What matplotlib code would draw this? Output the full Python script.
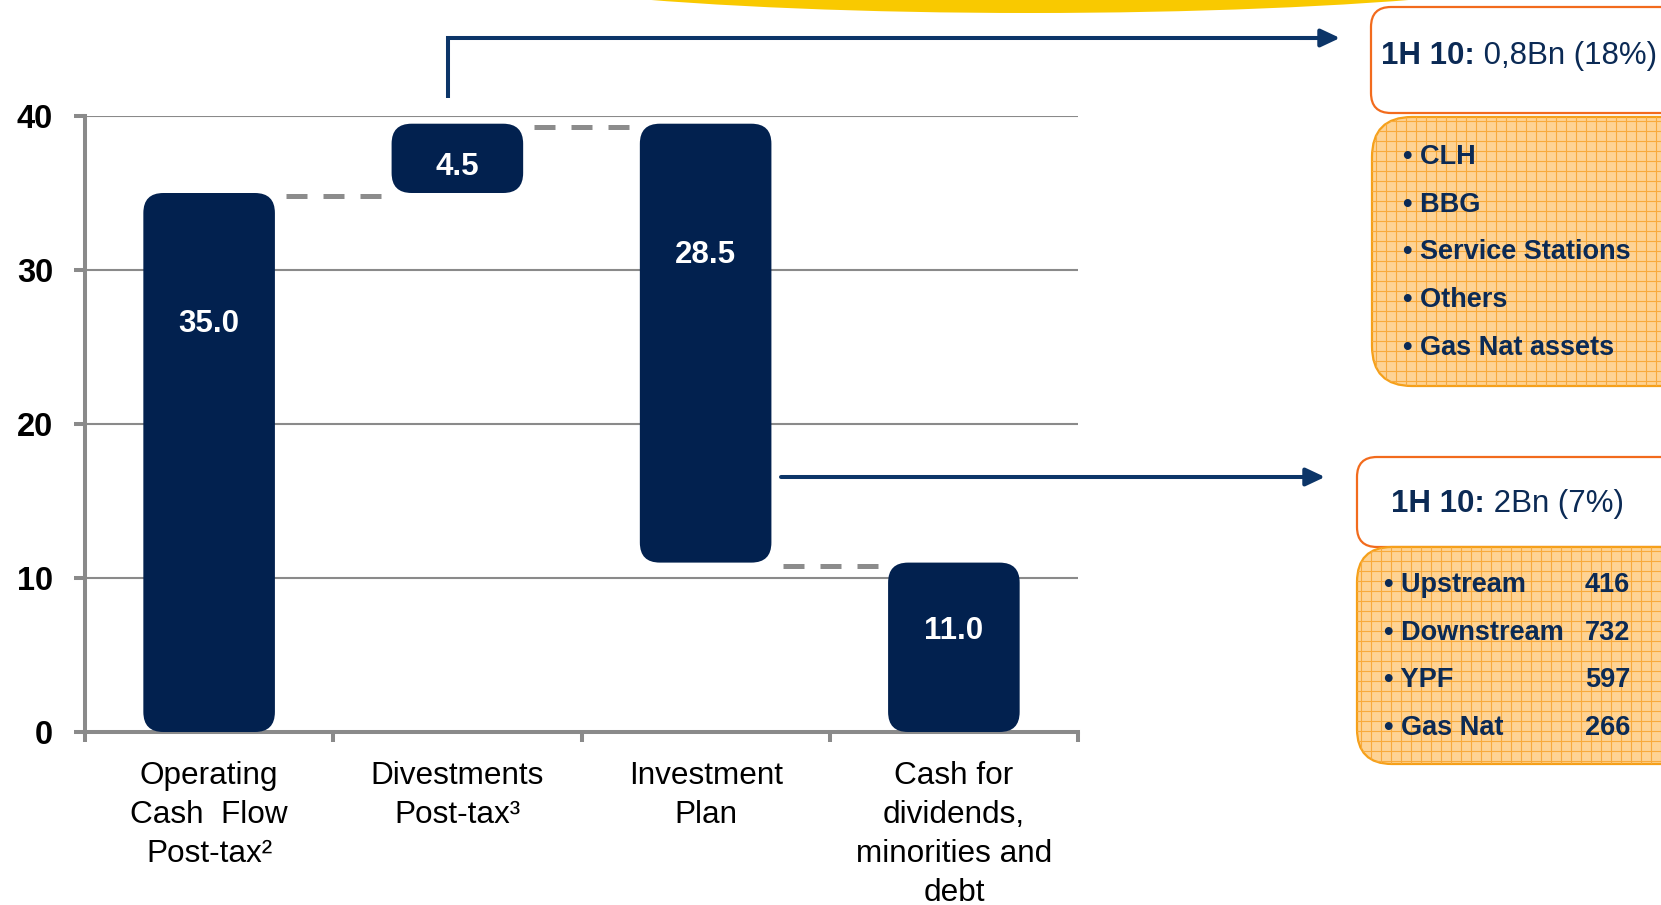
import numpy as np
import matplotlib
matplotlib.use('Agg')
import matplotlib.pyplot as plt
from matplotlib.patches import FancyBboxPatch, Ellipse

plt.rcParams['font.family'] = ['Liberation Sans', 'DejaVu Sans']

# chart data
categories = ['Operating\nCash  Flow\nPost-tax\u00b2', 'Divestments\nPost-tax\u00b3',
              'Investment\nPlan', 'Cash for\ndividends,\nminorities and\ndebt']
values = [35.0, 4.5, 28.5, 11.0]
kinds = ['total', 'up', 'down', 'total']
y_ticks = [0, 10, 20, 30, 40]

# side boxes
divest_head = ['1H 10:', ' 0,8Bn (18%)']
divest_items = ['CLH', 'BBG', 'Service Stations', 'Others', 'Gas Nat assets']
invest_head = ['1H 10:', ' 2Bn (7%)']
invest_items = ['Upstream', 'Downstream', 'YPF', 'Gas Nat']
invest_amounts = [416, 732, 597, 266]

NAVY = '#02214f'
ARROW = '#0c3568'
GREY = '#8a8a8a'
TXT = '#0b2a55'
ORANGE_EDGE = '#f26b1d'
ORANGE_FILL = '#fed394'
ORANGE_GRID = '#f8aa3c'

W, H = 1661, 905
fig = plt.figure(figsize=(W / 100, H / 100), dpi=100)

ax_l, ax_r, ax_t, ax_b = 85, 1078, 116, 732
ax = fig.add_axes([ax_l / W, 1 - ax_b / H, (ax_r - ax_l) / W, (ax_b - ax_t) / H])
ax.set_xlim(0, 4)
ax.set_ylim(0, 40)
px_x = (ax_r - ax_l) / 4
px_y = (ax_b - ax_t) / 40

# waterfall levels
bottoms, tops, levels = [], [], []
level = 0
for v, k in zip(values, kinds):
    if k == 'total':
        b, t = 0, v
        level = v
    elif k == 'up':
        b, t = level, level + v
        level += v
    else:
        b, t = level - v, level
        level -= v
    bottoms.append(b)
    tops.append(t)
    levels.append(level)

bw = 0.53
for i, (b, t) in enumerate(zip(bottoms, tops)):
    p = FancyBboxPatch((i + 0.5 - bw / 2, b), bw, t - b,
                       boxstyle=f'round,pad=0,rounding_size={20 / px_x}',
                       mutation_aspect=px_x / px_y, fc=NAVY, ec='none', zorder=3)
    ax.add_patch(p)
    h = t - b
    ly = t - min(1.7 + 0.25 * h, 8.5)
    ax.text(i + 0.5, ly, f'{values[i]:.1f}', ha='center', va='center',
            color='white', fontsize=22.5, fontweight='bold', zorder=4)

# dashed connectors
for i in range(len(values) - 1):
    x0 = i + 0.5 + bw / 2 + 0.045
    x1 = i + 1.5 - bw / 2 - 0.01
    ax.plot([x0, x1], [levels[i] - 0.2, levels[i] - 0.2], color='#8c8c8c', lw=3.6,
            linestyle=(0, (21 / 5, 16 / 5)), solid_capstyle='butt',
            dash_capstyle='butt', zorder=2)

ax.set_yticks(y_ticks)
ax.set_yticklabels([str(v) for v in y_ticks], fontsize=23.5, fontweight='bold')
ax.yaxis.grid(True, color=GREY, lw=1.5)
ax.set_axisbelow(True)
for s in ['top', 'right']:
    ax.spines[s].set_visible(False)
for s in ['left', 'bottom']:
    ax.spines[s].set_color(GREY)
    ax.spines[s].set_linewidth(2.9)

ax.set_xticks(range(5))
ax.set_xticklabels([])
ax.set_xticks([i + 0.5 for i in range(4)], categories, minor=True)
ax.tick_params(axis='y', length=8, width=2.9, color=GREY, pad=15, labelcolor='black')
ax.tick_params(axis='x', which='major', length=7, width=2.9, color=GREY)
ax.tick_params(axis='x', which='minor', length=0, pad=21, labelsize=22.7)
for lab in ax.get_xticklabels(minor=True):
    lab.set_linespacing(1.39)

# overlay in pixel coordinates
ov = fig.add_axes([0, 0, 1, 1], zorder=5)
ov.set_xlim(0, W)
ov.set_ylim(H, 0)
ov.axis('off')

ov.add_patch(Ellipse((1030, -47), 1220, 120, color='#f9c900', lw=0))


def rbox(x0, y0, x1, y1, r, fc, ec):
    p = FancyBboxPatch((x0, y0), x1 - x0, y1 - y0,
                       boxstyle=f'round,pad=0,rounding_size={r}',
                       fc=fc, ec=ec, lw=1.6, zorder=2)
    ov.add_patch(p)
    return p


def grid_fill(p, x0, y0, x1, y1, step=10):
    for gx in np.arange(x0 + 4, x1, step):
        ln, = ov.plot([gx, gx], [y0, y1], color=ORANGE_GRID, lw=0.8, zorder=2.5)
        ln.set_clip_path(p)
    for gy in np.arange(y0 + 4, y1, step):
        ln, = ov.plot([x0, x1], [gy, gy], color=ORANGE_GRID, lw=0.8, zorder=2.5)
        ln.set_clip_path(p)


def header(x, y, parts):
    t1 = ov.text(x, y, parts[0], fontsize=22.5, fontweight='bold', color=TXT,
                 va='baseline', ha='left', zorder=4)
    ov.annotate(parts[1], xy=(1, 0), xycoords=t1, fontsize=22.5, color=TXT,
                va='bottom', ha='left', zorder=4)


# divestments boxes
rbox(1371, 7, 1720, 113, 20, 'white', ORANGE_EDGE)
header(1381, 64, divest_head)
pb = rbox(1372, 117, 1720, 386, 40, ORANGE_FILL, '#f5a01a')
grid_fill(pb, 1372, 117, 1720, 386)
for i, name in enumerate(divest_items):
    ov.text(1403, 157 + i * 47.7, '\u2022 ' + name, fontsize=19.5, fontweight='bold',
            color=TXT, va='center', ha='left', zorder=4)

# investment boxes
rbox(1357, 457, 1720, 547, 20, 'white', ORANGE_EDGE)
header(1391, 512, invest_head)
pd = rbox(1357, 547, 1720, 764, 35, ORANGE_FILL, '#f5a01a')
grid_fill(pd, 1357, 547, 1720, 764)
for i, (name, amt) in enumerate(zip(invest_items, invest_amounts)):
    y = 585 + i * 47.7
    ov.text(1384, y, '\u2022 ' + name, fontsize=19.5, fontweight='bold',
            color=TXT, va='center', ha='left', zorder=4)
    ov.text(1630, y, str(amt), fontsize=19.5, fontweight='bold',
            color=TXT, va='center', ha='right', zorder=4)

# arrows
ov.plot([448, 448, 1330], [98, 38, 38], color=ARROW, lw=2.9,
        solid_joinstyle='miter', solid_capstyle='butt')
ov.annotate('', xy=(1340, 38), xytext=(1300, 38),
            arrowprops=dict(arrowstyle='-|>,head_length=11.5,head_width=5.4',
                            mutation_scale=1, color=ARROW, lw=2.9,
                            shrinkA=0, shrinkB=0))
ov.annotate('', xy=(1325, 477), xytext=(781, 477),
            arrowprops=dict(arrowstyle='-|>,head_length=11.5,head_width=5.4',
                            mutation_scale=1, color=ARROW, lw=2.9,
                            shrinkA=0, shrinkB=0))

fig.savefig('out.png', dpi=100)
